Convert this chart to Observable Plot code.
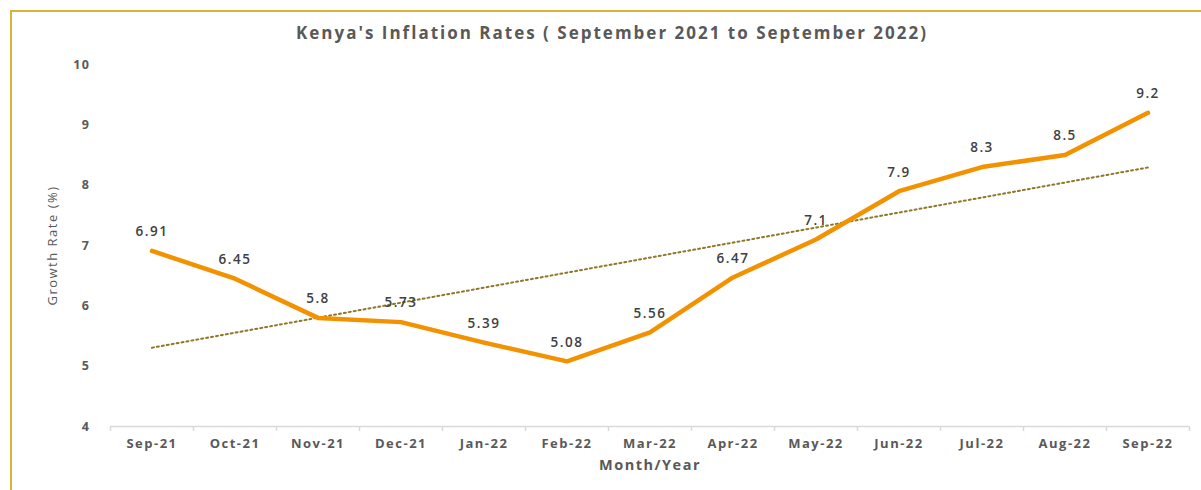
<!DOCTYPE html>
<html><head><meta charset="utf-8">
<script src="https://cdn.jsdelivr.net/npm/d3@7"></script>
<script src="https://cdn.jsdelivr.net/npm/@observablehq/plot@0.6"></script>
<style>
body{margin:0;background:#fff;}
#wrap{position:relative;width:1201px;height:490px;overflow:hidden;background:#fff;font-family:"Open Sans",sans-serif;}
#frame{position:absolute;left:10px;top:10px;width:1300px;height:600px;border-left:2px solid #d9b33b;border-top:2px solid #d9b33b;box-sizing:border-box;}
#title{position:absolute;left:0;top:21px;width:1224px;text-align:center;font-size:17px;font-weight:700;color:#595959;letter-spacing:2px;}
#chart{position:absolute;left:0;top:50px;}
</style></head>
<body><div id="wrap"><div id="frame"></div><div id="title">Kenya's Inflation Rates ( September 2021 to September 2022)</div><div id="chart"></div></div>
<script>
const months = ["Sep-21","Oct-21","Nov-21","Dec-21","Jan-22","Feb-22","Mar-22","Apr-22","May-22","Jun-22","Jul-22","Aug-22","Sep-22"];
const rates = [6.91,6.45,5.8,5.73,5.39,5.08,5.56,6.47,7.1,7.9,8.3,8.5,9.2];
const yTicks = [4,5,6,7,8,9,10];
const labels = ["6.91","6.45","5.8","5.73","5.39","5.08","5.56","6.47","7.1","7.9","8.3","8.5","9.2"];

const data = months.map((m,i)=>({i, m, v: rates[i], label: labels[i]}));
const idx = months.map((_,i)=>i);
const bounds = d3.range(-0.5, months.length, 1);

const chart = Plot.plot({
  width: 1201,
  height: 440,
  marginLeft: 110,
  marginRight: 12,
  marginTop: 14,
  marginBottom: 64,
  style: {fontFamily: '"Open Sans", sans-serif', background: "transparent", letterSpacing: "1.5px"},
  x: {domain: [-0.5, months.length - 0.5], axis: null},
  y: {domain: [4, 10], axis: null},
  marks: [
    Plot.ruleY([4], {stroke: "#d9d9d9", strokeWidth: 1.5}),
    Plot.axisX({ticks: bounds, tickSize: 5, tickFormat: () => "", stroke: "#d9d9d9", strokeWidth: 1.5, label: null}),
    Plot.axisX({ticks: idx, tickSize: 0, tickPadding: 12, tickFormat: i => months[i], fill: "#595959", fontSize: 13, fontWeight: 700, label: null}),
    Plot.axisY({ticks: yTicks, tickSize: 0, tickPadding: 20, tickFormat: d => String(d), fill: "#595959", fontSize: 12.5, fontWeight: 700, label: null}),
    Plot.text(["Month/Year"], {frameAnchor: "bottom", dy: 43, fill: "#595959", fontSize: 14.5, fontWeight: 700}),
    Plot.text(["Growth Rate (%)"], {frameAnchor: "left", dx: -58, rotate: -90, textAnchor: "middle", fill: "#595959", fontSize: 13}),
    Plot.linearRegressionY(data, {x: "i", y: "v", ci: 0, stroke: "#8f7728", strokeWidth: 2, strokeDasharray: "2,3"}),
    Plot.line(data, {x: "i", y: "v", stroke: "#f39200", strokeWidth: 4.5, strokeLinejoin: "round", strokeLinecap: "round"}),
    Plot.text(data, {x: "i", y: "v", text: "label", dy: -19, fill: "#404040", fontSize: 13.5, fontWeight: 600})
  ]
});
document.getElementById("chart").appendChild(chart);
</script></body></html>
